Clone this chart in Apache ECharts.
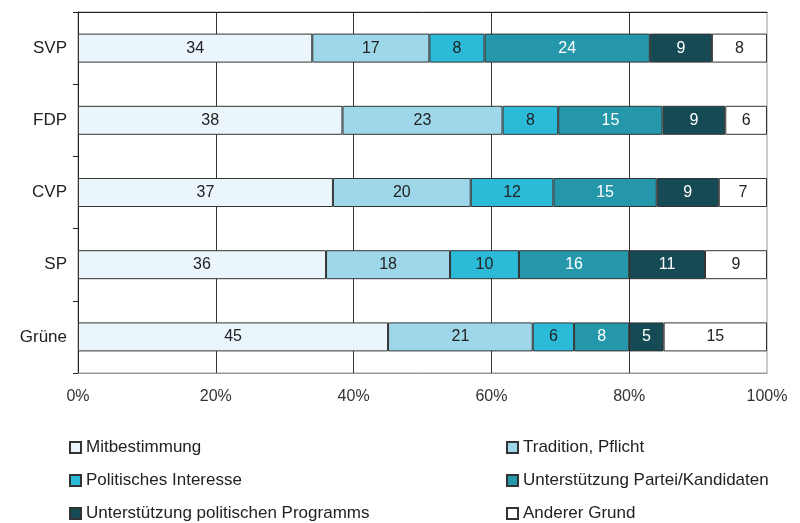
<!DOCTYPE html>
<html>
<head>
<meta charset="utf-8">
<script src="https://cdn.jsdelivr.net/npm/echarts@6/dist/echarts.min.js"></script>
<style>
  html, body { margin: 0; padding: 0; background: #fff; }
  #chart { width: 800px; height: 523px; }
</style>
</head>
<body>
<div id="chart"></div>
<script>
// Parteien (oben nach unten)
const parteien = ["SVP", "FDP", "CVP", "SP", "Grüne"];
// Gründe, Anteile in %
const mitbestimmung = [34, 38, 37, 36, 45];
const tradition = [17, 23, 20, 18, 21];
const politInteresse = [8, 8, 12, 10, 6];
const unterstPartei = [24, 15, 15, 16, 8];
const unterstProgramm = [9, 9, 9, 11, 5];
const andererGrund = [8, 6, 7, 9, 15];
const xTicks = ["0%", "20%", "40%", "60%", "80%", "100%"];

const gruende = [
  { name: "Mitbestimmung", data: mitbestimmung, color: "#eaf6fb", text: "#222" },
  { name: "Tradition, Pflicht", data: tradition, color: "#9dd7e9", text: "#222" },
  { name: "Politisches Interesse", data: politInteresse, color: "#2bbbd8", text: "#222" },
  { name: "Unterstützung Partei/Kandidaten", data: unterstPartei, color: "#2497ab", text: "#fff" },
  { name: "Unterstützung politischen Programms", data: unterstProgramm, color: "#164b55", text: "#fff" },
  { name: "Anderer Grund", data: andererGrund, color: "#ffffff", text: "#222" }
];

// 100%-Balken: jede Zeile auf 100 normieren
const summen = parteien.map((p, i) => gruende.reduce((s, g) => s + g.data[i], 0));

const font = "Liberation Sans, Arial, sans-serif";

const chart = echarts.init(document.getElementById("chart"));
const option = {
  animation: false,
  grid: {
    left: 78, right: 33, top: 12, bottom: 150,
    show: true, borderColor: "#999", borderWidth: 1
  },
  xAxis: [
    {
      type: "value", min: 0, max: 100, interval: 20,
      axisLine: { show: true, lineStyle: { color: "#999" } },
      axisTick: { show: false },
      splitLine: { show: true, showMaxLine: false, lineStyle: { color: "#333", width: 1 } },
      axisLabel: {
        margin: 16, fontSize: 16, color: "#333", fontFamily: font,
        formatter: (v) => xTicks[v / 20]
      }
    },
    {
      type: "value", min: 0, max: 100, position: "top",
      axisLine: { show: true, lineStyle: { color: "#222" } },
      axisTick: { show: false },
      splitLine: { show: false },
      axisLabel: { show: false }
    }
  ],
  yAxis: {
    type: "category", data: parteien, inverse: true,
    axisLine: { show: true, lineStyle: { color: "#222" } },
    axisTick: { show: true, length: 5, lineStyle: { color: "#222" } },
    axisLabel: { margin: 11, fontSize: 17, color: "#222", fontFamily: font }
  },
  legend: [
    {
      data: [gruende[0].name, gruende[2].name, gruende[4].name],
      orient: "vertical", left: 69, top: 439, padding: 0,
      itemWidth: 11, itemHeight: 11, itemGap: 16, icon: "rect",
      textStyle: { fontSize: 17, color: "#222", fontFamily: font }
    },
    {
      data: [gruende[1].name, gruende[3].name, gruende[5].name],
      orient: "vertical", left: 506, top: 439, padding: 0,
      itemWidth: 11, itemHeight: 11, itemGap: 16, icon: "rect",
      textStyle: { fontSize: 17, color: "#222", fontFamily: font }
    }
  ],
  series: gruende.map((g) => ({
    name: g.name,
    type: "bar",
    stack: "total",
    barWidth: 29,
    data: g.data.map((v, i) => (v / summen[i]) * 100),
    itemStyle: { color: g.color, borderColor: "#333", borderWidth: 1 },
    label: {
      show: true, position: "inside", fontSize: 16, fontFamily: font, color: g.text,
      formatter: (p) => g.data[p.dataIndex]
    }
  }))
};
option && chart.setOption(option);
</script>
</body>
</html>
